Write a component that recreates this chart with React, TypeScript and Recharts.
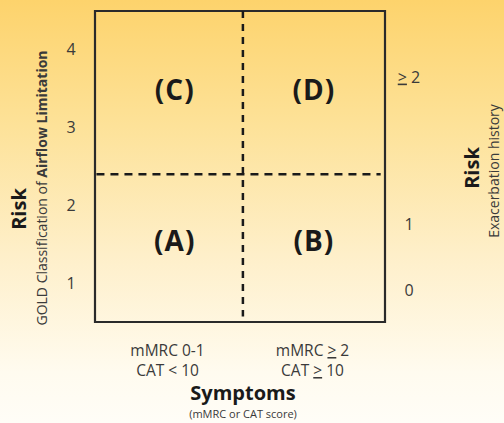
import React from "react";
import {
  ComposedChart,
  XAxis,
  YAxis,
  ReferenceLine,
  ReferenceArea,
  Scatter,
  Label,
} from "recharts";

// Symptom categories (x axis)
const symptomCenters = [0.5, 1.5];
const symptomLine1 = ["mMRC 0-1", "mMRC ≥ 2"];
const symptomLine2 = ["CAT < 10", "CAT ≥ 10"];

// GOLD classification ticks (left axis)
const goldTicks = [1, 2, 3, 4];

// Exacerbation history ticks (right axis)
const exacTickValues = [0.9, 1.75, 3.65];
const exacTickLabels = ["0", "1", "≥ 2"];

// Quadrant groups
const quadNames = ["(C)", "(D)", "(A)", "(B)"];
const quadX = [0.55, 1.51, 0.55, 1.51];
const quadY = [3.48, 3.48, 1.54, 1.54];

// Dividers
const symptomDivider = 1.02;
const riskDivider = 2.4;

const quadData = quadNames.map((n, i) => ({ name: n, x: quadX[i], y: quadY[i] }));
const exacData = exacTickValues.map((v) => ({ x: 2, y: v }));

const FONT = "'Open Sans', Lato, sans-serif";
const TXT = "#3a3a3a";

// render "≥" as underlined ">" like the slide
const renderGe = (s: string, key?: string) => {
  const parts = s.split("≥");
  if (parts.length === 1) return s;
  return [
    <tspan key={(key || "") + "a"}>{parts[0]}</tspan>,
    <tspan key={(key || "") + "b"} textDecoration="underline">{">"}</tspan>,
    <tspan key={(key || "") + "c"}>{parts[1]}</tspan>,
  ];
};

const XTick = (props: any) => {
  const { x, y, payload } = props;
  let i = symptomCenters.findIndex((v) => Math.abs(v - payload.value) < 1e-6);
  if (i < 0) i = props.index ?? 0;
  return (
    <g>
      <text x={x} y={y + 26} textAnchor="middle" fontFamily={FONT} fontSize={15.5} fill={TXT}>
        {renderGe(symptomLine1[i], "l1")}
      </text>
      <text x={x} y={y + 46} textAnchor="middle" fontFamily={FONT} fontSize={15.5} fill={TXT}>
        {renderGe(symptomLine2[i], "l2")}
      </text>
    </g>
  );
};

const RightTick = (props: any) => {
  const { y, payload } = props;
  let i = exacTickValues.findIndex((v) => Math.abs(v - payload.value) < 1e-6);
  if (i < 0) i = props.index ?? 0;
  return (
    <text x={409} y={y + 5.5} textAnchor="middle" fontFamily={FONT} fontSize={16} fill={TXT}>
      {renderGe(exacTickLabels[i] ?? "", "r")}
    </text>
  );
};

const LeftTick = (props: any) => {
  const { y, payload } = props;
  return (
    <text x={71} y={y + 5.5} textAnchor="middle" fontFamily={FONT} fontSize={16} fill={TXT}>
      {payload.value}
    </text>
  );
};

const QuadShape = (props: any) => {
  const { cx, cy, payload } = props;
  return (
    <text x={cx} y={cy + 10} textAnchor="middle" fontFamily={FONT} fontWeight={700} fontSize={28} fill="#1a1a1a" letterSpacing={1}>
      {payload.name}
    </text>
  );
};

const NoShape = () => <g />;

const LeftTitle = () => {
  return (
    <g>
      <text transform={`translate(26, 209) rotate(-90)`} textAnchor="middle" fontFamily={FONT} fontWeight={700} fontSize={20} fill="#1a1a1a">
        Risk
      </text>
      <text transform={`translate(46.5, 188) rotate(-90)`} textAnchor="middle" fontFamily={FONT} fontSize={14} fill={TXT}>
        GOLD Classification of <tspan fontWeight={700}>Airflow Limitation</tspan>
      </text>
    </g>
  );
};

const RightTitle = () => {
  return (
    <g>
      <text transform={`translate(479, 168) rotate(-90)`} textAnchor="middle" fontFamily={FONT} fontWeight={700} fontSize={20} fill="#1a1a1a">
        Risk
      </text>
      <text transform={`translate(499, 171) rotate(-90)`} textAnchor="middle" fontFamily={FONT} fontSize={14} fill={TXT}>
        Exacerbation history
      </text>
    </g>
  );
};

const BottomTitle = () => {
  return (
    <g>
      <text x={243} y={400} textAnchor="middle" fontFamily={FONT} fontWeight={700} fontSize={20} fill="#1a1a1a">
        Symptoms
      </text>
      <text x={243} y={418} textAnchor="middle" fontFamily={FONT} fontSize={11} fill={TXT}>
        (mMRC or CAT score)
      </text>
    </g>
  );
};

export default function App() {
  return (
    <div
      style={{
        position: "absolute",
        left: 0,
        top: 0,
        width: 504,
        height: 423,
        background: "linear-gradient(180deg, #fdd36c 0%, #fde299 30%, #feefc9 60%, #fffbef 88%, #fffdf7 100%)",
      }}
    >
      <ComposedChart
        width={504}
        height={423}
        data={quadData}
        margin={{ top: 11, right: 59, bottom: 0, left: 35 }}
      >
        <XAxis
          type="number"
          dataKey="x"
          domain={[0, 2]}
          ticks={symptomCenters}
          tick={<XTick />}
          axisLine={false}
          tickLine={false}
          height={101}
          interval={0}
          allowDataOverflow
        >
          <Label content={<BottomTitle />} />
        </XAxis>
        <YAxis
          yAxisId="gold"
          type="number"
          domain={[0.5, 4.5]}
          ticks={goldTicks}
          tick={<LeftTick />}
          axisLine={false}
          tickLine={false}
          width={60}
          interval={0}
          allowDataOverflow
        >
          <Label content={<LeftTitle />} />
        </YAxis>
        <YAxis
          yAxisId="exac"
          orientation="right"
          type="number"
          domain={[0.5, 4.5]}
          ticks={exacTickValues}
          tick={<RightTick />}
          axisLine={false}
          tickLine={false}
          width={60}
          interval={0}
          allowDataOverflow
        >
          <Label content={<RightTitle />} />
        </YAxis>
        <ReferenceArea
          yAxisId="gold"
          x1={0}
          x2={2}
          y1={0.5}
          y2={4.5}
          fill="none"
          fillOpacity={0}
          stroke="#2a2a2a"
          strokeWidth={2.2}
          ifOverflow="visible"
        />
        <ReferenceLine
          yAxisId="gold"
          segment={[
            { x: symptomDivider, y: 4.5 },
            { x: symptomDivider, y: 0.57 },
          ]}
          stroke="#1a1a1a"
          strokeWidth={2.5}
          strokeDasharray="7 6"
        />
        <ReferenceLine
          yAxisId="gold"
          segment={[
            { x: 0.01, y: riskDivider },
            { x: 1.97, y: riskDivider },
          ]}
          stroke="#1a1a1a"
          strokeWidth={2.5}
          strokeDasharray="8 6"
        />
        <Scatter
          yAxisId="gold"
          dataKey="y"
          data={quadData}
          shape={<QuadShape />}
          isAnimationActive={false}
        />
        <Scatter
          yAxisId="exac"
          dataKey="y"
          data={exacData}
          shape={<NoShape />}
          isAnimationActive={false}
        />
      </ComposedChart>
    </div>
  );
}
